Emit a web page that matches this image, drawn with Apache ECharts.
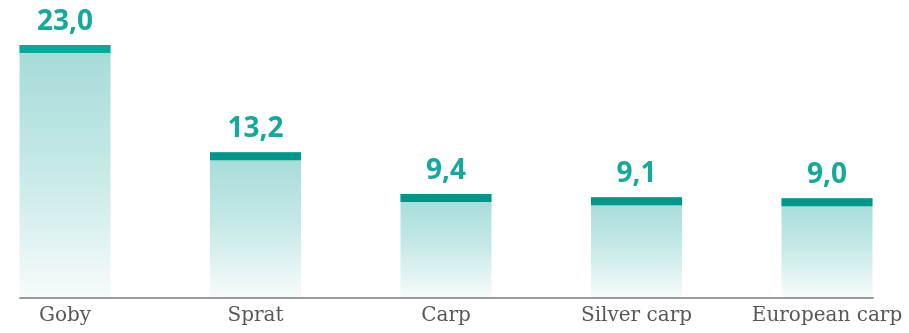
<!DOCTYPE html>
<html>
<head>
<meta charset="utf-8">
<script src="https://cdn.jsdelivr.net/npm/echarts@6/dist/echarts.min.js"></script>
<style>
html,body{margin:0;padding:0;background:#fff;}
#chart{width:909px;height:333px;}
</style>
</head>
<body>
<div id="chart"></div>
<script>
const categories = ['Goby', 'Sprat', 'Carp', 'Silver carp', 'European carp'];
const values = [23.0, 13.2, 9.4, 9.1, 9.0];

const capColors = ['#04ab9c', '#009689', '#009689', '#009689', '#009689'];
const positions = categories.map((c, i) => i);

const chart = echarts.init(document.getElementById('chart'), null, {renderer: 'canvas'});
chart.setOption({
  animation: false,
  grid: [
    {left: 0, right: 0, top: 0, bottom: 36, containLabel: false},
    {left: 20, right: 36, top: 0, bottom: 35, containLabel: false}
  ],
  xAxis: [
    {
      type: 'value', gridIndex: 0, min: -0.3412, max: 4.4304,
      axisLine: {show: false}, axisTick: {show: false}, splitLine: {show: false},
      axisLabel: {
        customValues: positions,
        color: '#585858', fontFamily: 'DejaVu Serif', fontSize: 20, margin: 9,
        formatter: v => categories[Math.round(v)]
      }
    },
    {
      type: 'value', gridIndex: 1, min: 0, max: 1, z: 20,
      axisLine: {show: true, lineStyle: {color: '#9b9b9b', width: 2}},
      axisTick: {show: false}, axisLabel: {show: false}, splitLine: {show: false}
    }
  ],
  yAxis: [
    {type: 'value', gridIndex: 0, min: 0, max: 27.1, show: false, splitLine: {show: false}},
    {type: 'value', gridIndex: 1, min: 0, max: 1, show: false, splitLine: {show: false}}
  ],
  series: [
    {
      type: 'bar', xAxisIndex: 0, yAxisIndex: 0,
      data: values.map((v, i) => [positions[i], v]), barWidth: 91,
      itemStyle: {
        color: new echarts.graphic.LinearGradient(0, 0, 0, 1, [
          {offset: 0, color: '#a4dbd8'},
          {offset: 0.5, color: '#c6e9e7'},
          {offset: 1, color: '#f6fbfb'}
        ])
      },
      label: {
        show: true, position: 'top', distance: 9,
        color: '#14a99a', fontFamily: 'Open Sans', fontWeight: 'bold', fontSize: 28,
        formatter: p => p.value[1].toFixed(1).replace('.', ',')
      }
    },
    {
      type: 'pictorialBar', xAxisIndex: 0, yAxisIndex: 0,
      data: values.map((v, i) => ({value: [positions[i], v], itemStyle: {color: capColors[i]}})),
      symbol: 'rect', symbolSize: [91, 8], symbolPosition: 'end',
      z: 5
    }
  ]
});
</script>
</body>
</html>
